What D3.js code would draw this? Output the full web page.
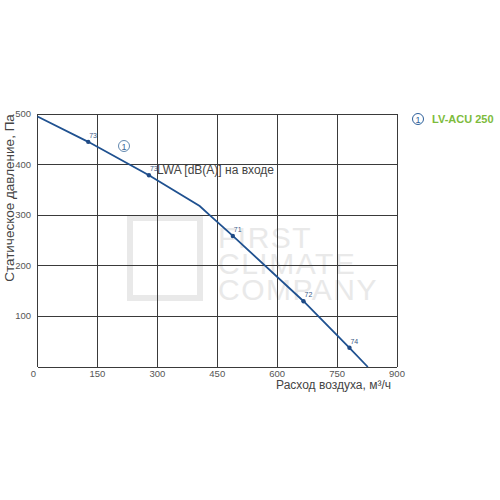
<!DOCTYPE html>
<html>
<head>
<meta charset="utf-8">
<style>
  body { margin: 0; background: #fff; }
  text { font-family: Arial, "Liberation Sans", sans-serif; }
</style>
</head>
<body>
<svg width="500" height="500"></svg>
<script src="https://d3js.org/d3.v7.min.js"></script>
<script>
    // fan curve LV-ACU 250
    var flow     = [0, 127, 279, 406, 431, 489, 666, 781, 827],
        pressure = [495, 445, 379, 318, 300, 259, 130, 38, 0];

    // measured points with sound power level
    var markFlow  = [127, 279, 489, 666, 781],
        markPress = [445, 379, 259, 130, 38],
        markLwa   = ["73", "73", "71", "72", "74"];

    var xTicks = [0, 150, 300, 450, 600, 750, 900],
        yTicks = [100, 200, 300, 400, 500];

    var svg = d3.select("svg");

    var x = d3.scaleLinear().domain([0, 900]).range([37.5, 397]),
        y = d3.scaleLinear().domain([0, 500]).range([367, 114]);

    // watermark
    var wm = svg.append("g").attr("fill", "#e9e9e9");
    wm.append("rect").attr("x", 130).attr("y", 218).attr("width", 70).attr("height", 80)
        .attr("fill", "none").attr("stroke", "#e9e9e9").attr("stroke-width", 6);
    ["FIRST", "CLIMATE", "COMPANY"].forEach(function(t, i) {
        wm.append("text").attr("x", 218).attr("y", 248 + i * 26)
            .attr("font-size", 30).attr("letter-spacing", 1.5).text(t);
    });

    // grid
    var grid = svg.append("g").attr("stroke", "#3a3a3a").attr("stroke-width", 1).attr("shape-rendering", "crispEdges");
    grid.selectAll(".gx").data(xTicks).enter().append("line")
        .attr("x1", d => x(d)).attr("x2", d => x(d))
        .attr("y1", y(0)).attr("y2", y(500));
    grid.selectAll(".gy").data([0].concat(yTicks)).enter().append("line")
        .attr("x1", x(0)).attr("x2", x(900))
        .attr("y1", d => y(d)).attr("y2", d => y(d));

    // tick labels
    svg.append("g").selectAll("text").data(xTicks).enter().append("text")
        .attr("x", d => d === 0 ? x(d) - 4 : x(d)).attr("y", 377)
        .attr("text-anchor", "middle").attr("font-size", 9.5).attr("fill", "#555")
        .text(d => d);
    svg.append("g").selectAll("text").data(yTicks).enter().append("text")
        .attr("x", 31).attr("y", d => y(d) + 3)
        .attr("text-anchor", "end").attr("font-size", 9.5).attr("fill", "#555")
        .text(d => d);

    // axis titles
    svg.append("text").attr("x", 391).attr("y", 389).attr("text-anchor", "end")
        .attr("font-size", 12).attr("fill", "#444").text("Расход воздуха, м³/ч");
    svg.append("text").attr("transform", "translate(14,198) rotate(-90)")
        .attr("text-anchor", "middle").attr("font-size", 13.5).attr("fill", "#444")
        .text("Статическое давление, Па");

    // curve
    var line = d3.line().x(d => x(d[0])).y(d => y(d[1]));
    svg.append("path").datum(d3.zip(flow, pressure))
        .attr("d", line).attr("fill", "none")
        .attr("stroke", "#1f5190").attr("stroke-width", 1.8);

    var marks = d3.zip(markFlow, markPress, markLwa);
    svg.append("g").selectAll("circle").data(marks).enter().append("circle")
        .attr("cx", d => x(d[0])).attr("cy", d => y(d[1])).attr("r", 2.2)
        .attr("fill", "#1f4a85");
    svg.append("g").selectAll("text").data(marks).enter().append("text")
        .attr("x", d => x(d[0]) + 1).attr("y", d => y(d[1]) - 4)
        .attr("font-size", 7).attr("fill", "#3a5a88")
        .text(d => d[2]);

    svg.append("text").attr("x", 157).attr("y", 174)
        .attr("font-size", 12).attr("fill", "#444").text("LWA [dB(A)] на входе");

    // curve number
    svg.append("circle").attr("cx", 124).attr("cy", 146).attr("r", 5.5)
        .attr("fill", "none").attr("stroke", "#3a6a9a").attr("stroke-width", 0.8);
    svg.append("text").attr("x", 124).attr("y", 150).attr("text-anchor", "middle")
        .attr("font-size", 9).attr("fill", "#3a6a9a").text("1");

    // legend
    svg.append("circle").attr("cx", 418).attr("cy", 119).attr("r", 5.5)
        .attr("fill", "none").attr("stroke", "#2e5f9a").attr("stroke-width", 1);
    svg.append("text").attr("x", 418).attr("y", 122.5).attr("text-anchor", "middle")
        .attr("font-size", 9).attr("fill", "#2e5f9a").text("1");
    svg.append("text").attr("x", 432).attr("y", 123)
        .attr("font-size", 11).attr("font-weight", "bold").attr("fill", "#7dbb3c")
        .text("LV-ACU 250");
</script>
</body>
</html>
